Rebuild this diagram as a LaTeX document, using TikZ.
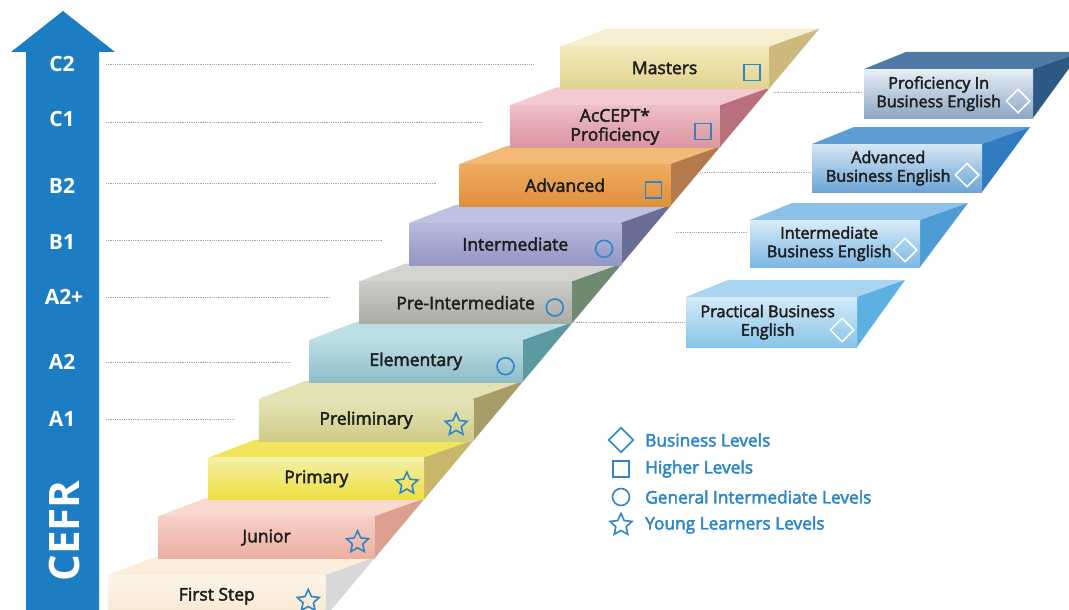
\documentclass[tikz,border=0pt]{standalone}
\usepackage{fontspec}
\setmainfont{Open Sans}
\newfontfamily\semi[FakeBold=2.6]{Open Sans}
\usetikzlibrary{shapes.geometric}
\definecolor{cefrblue}{HTML}{1C7DC3}
\definecolor{iconblue}{HTML}{2E86C8}
\definecolor{legblue}{HTML}{2D87C6}
\tikzset{
  front/.style={inner sep=0, align=center, font=\semi\fontsize{17.5}{20}\selectfont, text=black!88},
  biztext/.style={inner sep=0, align=center, font=\semi\fontsize{16.2}{18.5}\selectfont, text=black!88},
  icon/.style={draw=iconblue, line width=1.6pt, inner sep=0},
  iconsq/.style={icon, rectangle, minimum size=16pt},
  iconci/.style={icon, circle, minimum size=17pt},
  iconst/.style={icon, star, star points=5, star point ratio=2.1, minimum size=23pt},
  icondi/.style={draw=white, line width=1.5pt, diamond, minimum width=24pt, minimum height=24pt, inner sep=0},
  legdi/.style={icon, diamond, minimum width=25pt, minimum height=25pt},
  guide/.style={draw=black!35, line width=0.8pt, dash pattern=on 0.7pt off 1.1pt},
  cefr/.style={text=white, font=\bfseries\fontsize{21}{24}\selectfont, inner sep=0},
  legtext/.style={text=legblue, anchor=west, inner sep=0, font=\semi\fontsize{17.3}{20}\selectfont},
}
% #1 name, #2 index, #3 front top, #4 front bottom, #5 top face, #6 side, #7 label, #8 icon style
\newcommand\ladderstep[8]{%
  \definecolor{lsA}{HTML}{#3}\definecolor{lsB}{HTML}{#4}%
  \definecolor{lsC}{HTML}{#5}\definecolor{lsD}{HTML}{#6}%
  \pgfmathsetmacro\lsxl{108+50.2*#2}%
  \pgfmathsetmacro\lsyt{575-58.7*#2}%
  \pgfmathsetmacro\lsyb{\lsyt+42}%
  \pgfmathsetmacro\lsxr{820-0.84*(\lsyb-28)}%
  \pgfmathsetmacro\lsytt{\lsyt-18}%
  \pgfmathsetmacro\lsxtr{820-0.84*(\lsytt-28)}%
  \pgfmathsetmacro\lsw{\lsxr-\lsxl}%
  \fill[lsC] (\lsxl,\lsyt) -- (\lsxl+47,\lsytt) -- (\lsxtr,\lsytt) -- (\lsxr,\lsyt) -- cycle;
  \fill[lsD] (\lsxr,\lsyt) -- (\lsxtr,\lsytt) -- (\lsxr,\lsyb) -- cycle;
  \node[front, top color=lsA, bottom color=lsB, minimum width=\lsw pt, minimum height=42pt, anchor=north west] (#1) at (\lsxl,\lsyt) {#7};
  \node[#8] (#1-icon) at (\lsxr-17,\lsyt+26) {};
}
% #1 name, #2 xl, #3 yt, #4 xr, #5 yb, #6 front top, #7 front bottom, #8 top face, #9 side
\newcommand\bizstep[9]{%
  \definecolor{bsA}{HTML}{#6}\definecolor{bsB}{HTML}{#7}%
  \definecolor{bsC}{HTML}{#8}\definecolor{bsD}{HTML}{#9}%
  \fill[bsC] (#2,#3) -- (#2+42,#3-17) -- (#4+48,#3-17) -- (#4,#3) -- cycle;
  \fill[bsD] (#4,#3) -- (#4+48,#3-17) -- (#4,#5) -- cycle;
  \pgfmathsetmacro\bsw{#4-#2}%
  \pgfmathsetmacro\bsh{#5-#3}%
  \node[inner sep=0, top color=bsA, bottom color=bsB, minimum width=\bsw pt, minimum height=\bsh pt, anchor=north west] (#1) at (#2,#3) {};
  \node[icondi] (#1-icon) at (#4-15,#5-17) {};
}
\begin{document}
\begin{tikzpicture}[x=1pt,y=-1pt]
\useasboundingbox (0,0) rectangle (1069,610);
\clip (0,0) rectangle (1069,610);
\fill[white] (0,0) rectangle (1069,610);

% CEFR arrow
\fill[cefrblue] (26,615) -- (26,52) -- (11,52) -- (63,11) -- (115,52) -- (99,52) -- (99,615) -- cycle;
\node[cefr] (lc2) at (62,64) {C2};
\node[cefr] (lc1) at (62,119) {C1};
\node[cefr] (lb2) at (62,186) {B2};
\node[cefr] (lb1) at (62,242) {B1};
\node[cefr] (la2p) at (64,297) {A2+};
\node[cefr] (la2) at (62,362) {A2};
\node[cefr] (la1) at (62,419) {A1};
\node[text=white, font=\bfseries\fontsize{42}{44}\selectfont, rotate=90, inner sep=0] (cefrlbl) at (64,531) {CEFR};

% guide lines
\draw[guide] (106,64) -- (533,64);
\draw[guide] (106,122) -- (483,122);
\draw[guide] (106,183) -- (437,183);
\draw[guide] (106,240) -- (382,240);
\draw[guide] (106,297) -- (330,297);
\draw[guide] (106,362) -- (290,362);
\draw[guide] (106,419) -- (235,419);
\draw[guide] (773,92) -- (862,92);
\draw[guide] (700,172) -- (810,172);
\draw[guide] (676,232) -- (748,232);
\draw[guide] (572,322) -- (684,322);

% staircase
\ladderstep{first}{0}{FDF5EA}{F7E7CF}{FCEEDD}{D8D8D8}{First Step}{iconst}
\ladderstep{junior}{1}{F6CFC6}{ECAEA1}{F8D9CF}{DDA090}{Junior}{iconst}
\ladderstep{primary}{2}{F4EFA8}{EEDF3E}{F1E55C}{C8B76A}{Primary}{iconst}
\ladderstep{prelim}{3}{E6E4B8}{CFCB88}{E4E1B2}{A69D68}{Preliminary}{iconst}
\ladderstep{elem}{4}{BCDEE4}{8DBDC9}{BCDFE5}{5C9AA2}{Elementary}{iconci}
\ladderstep{preint}{5}{CBCBC7}{ABABA6}{D3D3CF}{6F8A70}{Pre-Intermediate}{iconci}
\ladderstep{inter}{6}{B7B9DC}{9496C4}{BFC1E0}{6A6E96}{Intermediate}{iconci}
\ladderstep{adv}{7}{EEAC60}{DF903C}{F2BA74}{B47A4C}{Advanced}{iconsq}
\ladderstep{accept}{8}{EEBFC5}{DA94A0}{F2CAD0}{B8707C}{AcCEPT*\\[-1pt]Proficiency}{iconsq}
\ladderstep{masters}{9}{F2E9BA}{E2D38E}{F5EFCF}{CDB97C}{Masters}{iconsq}

% business steps
\bizstep{prac}{686}{297}{857}{347}{D4EAF8}{88C4E9}{A9D5F1}{5DB1E2}
\bizstep{intbiz}{750}{220}{920}{267}{D8EBF8}{7BB7E3}{8CC2E9}{4C9DD6}
\bizstep{advbiz}{812}{144}{982}{192}{D6E7F5}{6AA4D5}{5E9DD3}{2F7CC0}
\bizstep{profbiz}{864}{69}{1033}{118}{E8EFF6}{8CA6C3}{4E7BA4}{2D5A84}
\node[biztext] (prac-text) at ([xshift=-4pt]prac.center) {Practical Business\\[0pt]English};
\node[biztext] (intbiz-text) at ([xshift=-6pt]intbiz.center) {Intermediate\\[0pt]Business English};
\node[biztext] (advbiz-text) at ([xshift=-9pt]advbiz.center) {Advanced\\[0pt]Business English};
\node[biztext] (profbiz-text) at ([xshift=-10pt]profbiz.center) {Proficiency In\\[0pt]Business English};

% legend
\node[legdi] (leg-di) at (621,440) {};
\node[iconsq] (leg-sq) at (621,469) {};
\node[iconci] (leg-ci) at (621,497) {};
\node[iconst] (leg-st) at (621,525) {};
\node[legtext] (leg-di-t) at (645,440) {Business Levels};
\node[legtext] (leg-sq-t) at (645,469) {Higher Levels};
\node[legtext] (leg-ci-t) at (645,497) {General Intermediate Levels};
\node[legtext] (leg-st-t) at (645,525) {Young Learners Levels};
\end{tikzpicture}
\end{document}
